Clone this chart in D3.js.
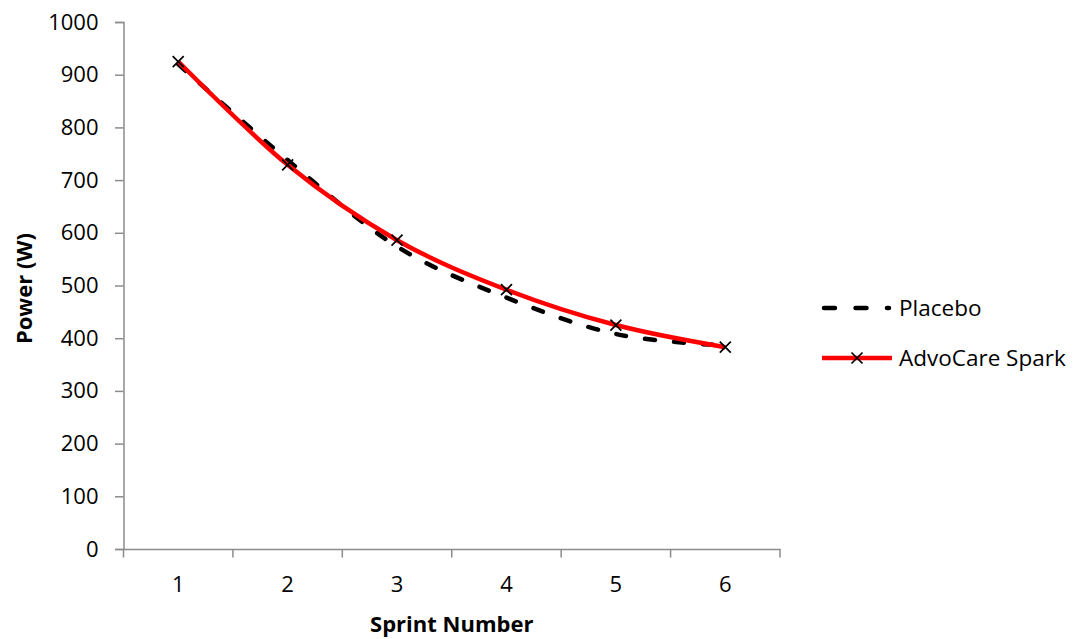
<!DOCTYPE html>
<html><head><meta charset="utf-8">
<script src="https://cdn.jsdelivr.net/npm/d3@7"></script>
<style>body{margin:0;background:#fff;}svg{display:block;font-family:"Open Sans",sans-serif;}</style>
</head><body><svg id="c" width="1076" height="639"></svg>
<script>
const categories = ["1","2","3","4","5","6"];
const placebo = [920, 738, 574, 477, 408, 386];
const advocare = [925, 729, 586, 492, 425, 383];
const yTicks = [0,100,200,300,400,500,600,700,800,900,1000];
const seriesNames = ["Placebo","AdvoCare Spark"];

const svg = d3.select("#c");
const L=123.5, R=780, T=22, B=549;
const x = d3.scaleBand().domain(categories).range([L,R]);
const y = d3.scaleLinear().domain([0,1000]).range([B,T]);
const axisColor="#8c8c8c";
const FS = 22;

// y axis
const ya = svg.append("g").attr("transform",`translate(${L},0)`)
  .call(d3.axisLeft(y).tickValues(yTicks).tickFormat(d3.format("d")).tickSize(8.5).tickPadding(16.5));
ya.attr("font-family","Open Sans").attr("font-size",FS);
ya.select(".domain").attr("stroke",axisColor).attr("stroke-width",1.5);
ya.selectAll(".tick line").attr("stroke",axisColor).attr("stroke-width",1.5);
ya.selectAll("text").attr("fill","#000");

// x axis
const xa = svg.append("g").attr("transform",`translate(0,${B})`)
  .call(d3.axisBottom(x).tickSize(0).tickPadding(27));
xa.attr("font-family","Open Sans").attr("font-size",FS);
xa.select(".domain").attr("stroke",axisColor).attr("stroke-width",1.5);
xa.selectAll("text").attr("fill","#000");
// boundary ticks
const bounds = categories.map(c=>x(c)).concat([R]);
svg.append("g").selectAll("line").data(bounds).join("line")
  .attr("x1",d=>d).attr("x2",d=>d).attr("y1",B).attr("y2",B+8.5)
  .attr("stroke",axisColor).attr("stroke-width",1.5);

const cx = c => x(c)+x.bandwidth()/2;
const line = d3.line().x((d,i)=>cx(categories[i])).y(d=>y(d)).curve(d3.curveCatmullRom.alpha(0));

const LW = 4.5;
svg.append("path").datum(placebo).attr("d",line).attr("fill","none")
  .attr("stroke","#000").attr("stroke-width",LW).attr("stroke-dasharray","10,19").attr("stroke-linecap","round");
svg.append("path").datum(advocare).attr("d",line).attr("fill","none")
  .attr("stroke","#ff0000").attr("stroke-width",LW);

function cross(g, px, py){
  const s=5.5;
  g.append("path").attr("d",`M${px-s},${py-s}L${px+s},${py+s}M${px-s},${py+s}L${px+s},${py-s}`)
   .attr("stroke","#000").attr("stroke-width",1.7);
}
const mk = svg.append("g");
advocare.forEach((v,i)=>cross(mk, cx(categories[i]), y(v)));

// axis titles
svg.append("text").attr("x",(L+R)/2).attr("y",632).attr("text-anchor","middle")
  .attr("font-size",22).attr("font-weight","bold").text("Sprint Number");
svg.append("text").attr("transform",`translate(32,${(T+B)/2+3}) rotate(-90)`).attr("text-anchor","middle")
  .attr("font-size",22).attr("font-weight","bold").text("Power (W)");

// legend
const lg = svg.append("g");
lg.append("line").attr("x1",824).attr("x2",889).attr("y1",308).attr("y2",308)
  .attr("stroke","#000").attr("stroke-width",LW).attr("stroke-dasharray","11,20.5").attr("stroke-linecap","round");
lg.append("text").attr("x",899).attr("y",316).attr("font-size",22.5).text(seriesNames[0]);
lg.append("line").attr("x1",822).attr("x2",892).attr("y1",358).attr("y2",358)
  .attr("stroke","#ff0000").attr("stroke-width",LW);
cross(lg, 857, 358);
lg.append("text").attr("x",899).attr("y",366).attr("font-size",22.5).text(seriesNames[1]);
</script></body></html>
